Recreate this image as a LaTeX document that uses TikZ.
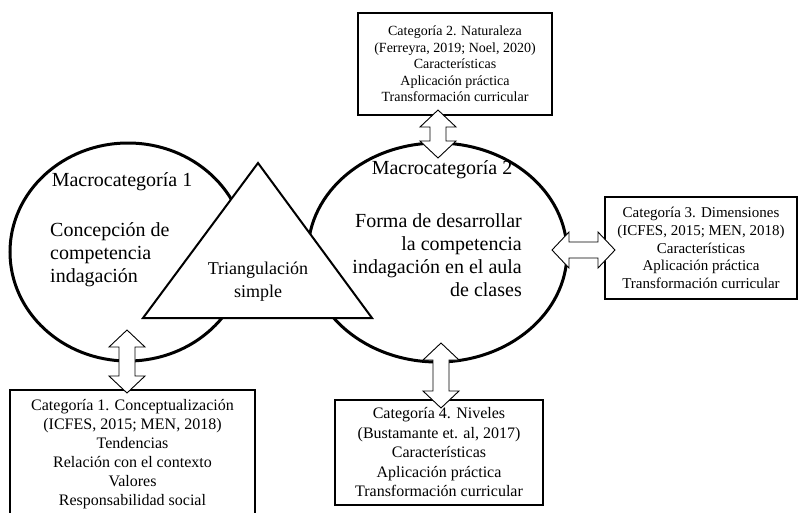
\documentclass[tikz,border=0pt]{standalone}
\usepackage{fontspec}
\setmainfont{Liberation Serif}
\usetikzlibrary{shapes.geometric}

\tikzset{
    pics/twoway/.style={code={
        \draw[fill=white, line width=0.9pt, line join=miter]
            (-#1,0) -- (-#1+17,-18) -- (-#1+17,-8) -- (#1-17,-8) -- (#1-17,-18) -- (#1,0)
            -- (#1-17,18) -- (#1-17,8) -- (-#1+17,8) -- (-#1+17,18) -- cycle;
    }}
}

\begin{document}
\begin{tikzpicture}[
    x=1pt, y=-1pt,
    macro/.style={ellipse, draw, line width=3pt, inner sep=0pt},
    catbox/.style={rectangle, draw, line width=2.8pt, inner sep=0pt, align=center},
    bigtext/.style={inner sep=0pt, font=\fontsize{20}{23}\selectfont}
]
\clip (0,0) rectangle (802,512);

% Macrocategories
\node[macro, minimum width=236, minimum height=218] (mac1) at (128,252) {};
\node[macro, minimum width=259, minimum height=219] (mac2) at (437.5,252.5) {};

\node[bigtext] (mac1t) at (122,182) {Macrocategoría 1};
\node[bigtext, align=left, anchor=west] (mac1b) at (50,255) {Concepción de\\competencia\\indagación};

\node[bigtext] (mac2t) at (442,170) {Macrocategoría 2};
\node[bigtext, align=right, anchor=east] (mac2b) at (522,255.5) {Forma de desarrollar\\la competencia\\indagación en el aula\\de clases};

% Triangle
\draw[fill=white, line width=2pt, line join=miter] (143,318) -- (372,318) -- (258,163) -- cycle;
\node[inner sep=0pt, align=center, font=\fontsize{18}{23}\selectfont] (tri) at (258,281.5) {Triangulación\\simple};

% Categories
\node[catbox, minimum width=245, minimum height=129, font=\fontsize{16}{19}\selectfont] (cat1) at (132.5,454.5)
    {Categoría 1. Conceptualización\\(ICFES, 2015; MEN, 2018)\\Tendencias\\Relación con el contexto\\Valores\\Responsabilidad social};
\node[catbox, minimum width=194, minimum height=102, font=\fontsize{14}{16.5}\selectfont] (cat2) at (455,64)
    {Categoría 2. Naturaleza\\(Ferreyra, 2019; Noel, 2020)\\Características\\Aplicación práctica\\Transformación curricular};
\node[catbox, minimum width=192, minimum height=102, font=\fontsize{15}{17.7}\selectfont] (cat3) at (701,248)
    {Categoría 3. Dimensiones\\(ICFES, 2015; MEN, 2018)\\Características\\Aplicación práctica\\Transformación curricular};
\node[catbox, minimum width=208, minimum height=105, font=\fontsize{16}{19.5}\selectfont] (cat4) at (439,452.5)
    {Categoría 4. Niveles\\(Bustamante et. al, 2017)\\Características\\Aplicación práctica\\Transformación curricular};

% Double arrows
\pic[rotate=90] (ar1) at (127,361.5) {twoway=31.5};
\pic[rotate=90] (ar2) at (438,134) {twoway=24};
\pic (ar3) at (583.5,250) {twoway=31.5};
\pic[rotate=90] (ar4) at (441,375.5) {twoway=32.5};

\end{tikzpicture}
\end{document}
